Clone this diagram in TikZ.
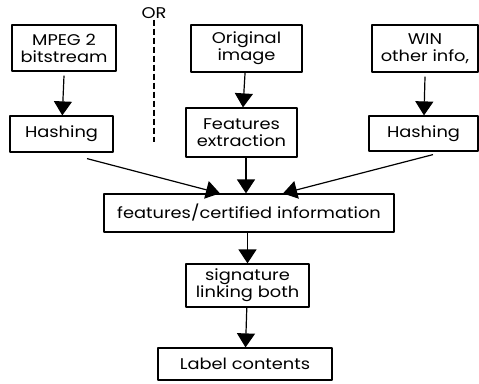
\documentclass[tikz,border=0pt]{standalone}
\usepackage{fontspec}
\setmainfont{Poppins}[FakeStretch=1.15]
\usetikzlibrary{arrows.meta,calc}
\begin{document}
\begin{tikzpicture}[x=1pt,y=-1pt, font=\fontsize{15.5}{17}\selectfont, line join=round,
 			box/.style={draw,line width=1.2pt,align=center,inner sep=0pt,minimum width=#1},
 			link/.style={-{Triangle[length=14pt,width=18pt]},line width=1.2pt}]
 			\useasboundingbox (0,0) rectangle (479,383);
 			\node[box=104pt,minimum height=46pt] (mpeg) at (64,48) {MPEG 2\\bitstream};
 			\node[box=103pt,minimum height=36pt] (hashL) at (61.5,134) {Hashing};
 			\node[box=111pt,minimum height=47pt] (orig) at (246.5,48.5) {Original\\image};
 			\node[box=111pt,minimum height=49pt] (feat) at (241.5,132.5) {Features\\extraction};
 			\node[box=106pt,minimum height=47pt] (win) at (425,48.5) {WIN\\other info,};
 			\node[box=109pt,minimum height=35pt] (hashR) at (423.5,133.5) {Hashing};
 			\node[box=290pt,minimum height=38pt] (cert) at (249,213) {features/certified information};
 			\node[box=123pt,minimum height=43pt] (sig) at (247.5,285.5) {signature\\linking both};
 			\node[box=174pt,minimum height=32pt] (label) at (245,364) {Label contents};
 			\node[inner sep=1pt] (or) at (154,13) {OR};
 			\coordinate (orend) at (154,142);
 			\draw[line width=1.2pt,dash pattern=on 6pt off 3pt] (or.south) -- (orend);
 			\draw[link] ([yshift=-4pt]mpeg.south) -- (hashL);
 			\draw[link] (orig) -- (feat);
 			\draw[link] ([yshift=-4pt]win.south) -- (hashR);
 			\draw[link] ([xshift=25.5pt,yshift=-6pt]hashL.south) -- ([xshift=-29pt]cert.north);
 			\draw[link] (feat.south -| 246,0) -- (cert.north -| 246,0);
 			\draw[link] ([xshift=9.5pt,yshift=-3pt]hashR.south) -- ([xshift=34pt]cert.north);
 			\draw[link] (cert.south -| sig.north) -- (sig);
 			\draw[link] (sig) -- (label);
 			\end{tikzpicture}
\end{document}
